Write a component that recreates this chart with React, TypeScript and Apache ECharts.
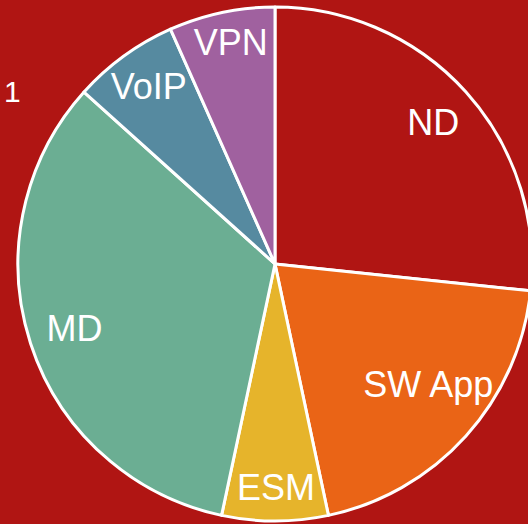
import React, { useEffect, useRef } from "react";
import * as echarts from "echarts";

const categories = ["ND", "SW App", "ESM", "MD", "VoIP", "VPN"];
const values = [8, 6, 2, 10, 2, 2];
const colors = ["#B01513", "#EA6416", "#E6B42B", "#6BAE93", "#568AA0", "#A0619F"];
const cornerText = "1";

// small per-label position tweaks (pixels) to mimic the reference placement
const labelNudge: Record<string, [number, number]> = {
  ND: [0, 1],
  "SW App": [-5, -22],
  ESM: [1, 10],
  MD: [2, -1],
  VoIP: [-1, -5],
  VPN: [0, -13],
};

export default function App() {
  const ref = useRef<HTMLDivElement>(null);
  useEffect(() => {
    if (!ref.current) return;
    const chart = echarts.init(ref.current, undefined, { renderer: "svg" });
    const data = categories.map((name, i) => ({
      name,
      value: values[i],
      itemStyle: { color: colors[i] },
    }));
    chart.setOption({
      animation: false,
      backgroundColor: "#B01513",
      title: {
        text: cornerText,
        left: -1,
        top: 71,
        textStyle: {
          color: "#ffffff",
          fontSize: 30,
          fontWeight: "normal",
          fontFamily: "Liberation Sans",
        },
      },
      series: [
        {
          type: "pie",
          center: [275, 264],
          radius: 257,
          startAngle: 90,
          clockwise: true,
          silent: true,
          data,
          itemStyle: { borderColor: "#ffffff", borderWidth: 3 },
          label: { show: false },
          labelLine: { show: false },
        },
        {
          type: "pie",
          center: [275, 264],
          radius: [163, 257],
          startAngle: 90,
          clockwise: true,
          silent: true,
          data: categories.map((name, i) => ({ name, value: values[i] })),
          itemStyle: { color: "rgba(0,0,0,0)", borderWidth: 0 },
          label: {
            show: true,
            position: "inside",
            formatter: "{b}",
            color: "#ffffff",
            fontSize: 36,
            fontFamily: "Liberation Sans",
          },
          labelLine: { show: false },
          labelLayout: (params: any) => {
            const n = labelNudge[categories[params.dataIndex]] || [0, 0];
            return { dx: n[0], dy: n[1] };
          },
        },
      ],
    });
    return () => chart.dispose();
  }, []);
  return (
    <div
      ref={ref}
      style={{ position: "fixed", left: 0, top: 0, width: 528, height: 524 }}
    />
  );
}
